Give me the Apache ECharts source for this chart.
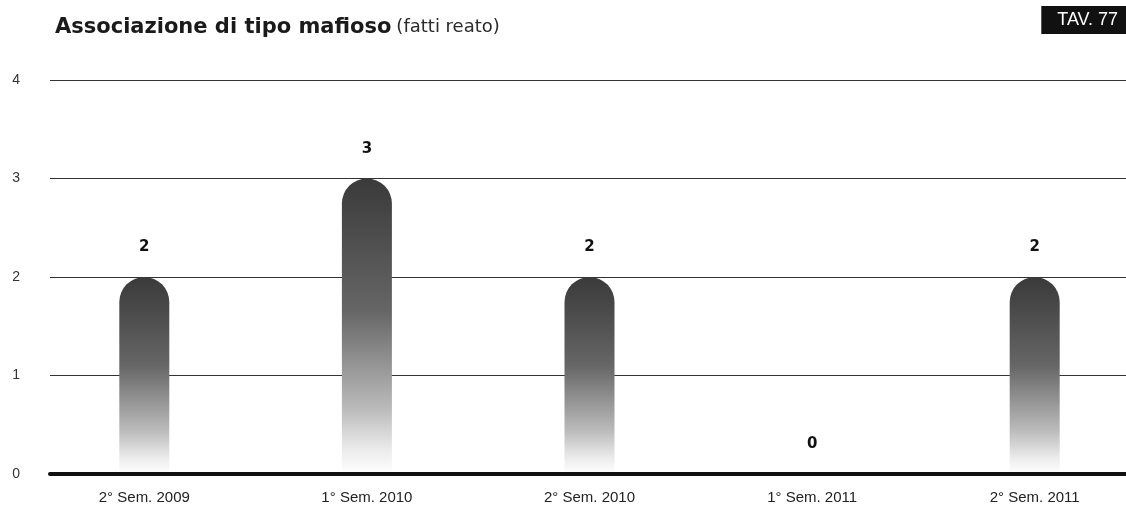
<!DOCTYPE html>
<html>
<head>
<meta charset="utf-8">
<script src="https://cdn.jsdelivr.net/npm/echarts@6/dist/echarts.min.js"></script>
<style>
  html, body { margin: 0; padding: 0; background: #fff; }
  #main { width: 1126px; height: 511px; }
</style>
</head>
<body>
<div id="main"></div>
<script>
var categories = ['2° Sem. 2009', '1° Sem. 2010', '2° Sem. 2010', '1° Sem. 2011', '2° Sem. 2011'];
var values = [2, 3, 2, 0, 2];
var yTicks = [0, 1, 2, 3, 4];

var myChart = echarts.init(document.getElementById('main'));

// bar fill: dark top fading to white at bottom
var barFill = new echarts.graphic.LinearGradient(0, 0, 0, 1, [
  { offset: 0, color: '#3a3a3a' },
  { offset: 0.45, color: '#666' },
  { offset: 0.78, color: '#bbb' },
  { offset: 0.92, color: '#ececec' },
  { offset: 1, color: '#fff' }
]);

var option = {
  animation: false,
  backgroundColor: '#fff',
  textStyle: { fontFamily: 'Liberation Sans, Arial, sans-serif' },
  title: [{
    left: 50,
    top: 12,
    text: '{b|Associazione di tipo mafioso} {n|(fatti reato)}',
    textStyle: {
      rich: {
        b: { fontFamily: 'DejaVu Sans', fontWeight: 'bold', fontSize: 21, color: '#1a1a1a' },
        n: { fontFamily: 'DejaVu Sans', fontWeight: 'normal', fontSize: 18, color: '#2a2a2a' }
      }
    }
  }, {
    right: 0,
    top: 6,
    text: 'TAV. 77',
    backgroundColor: '#111',
    padding: [5, 8, 5, 16],
    textStyle: { color: '#fff', fontSize: 18, fontWeight: 'normal', fontFamily: 'Liberation Sans' }
  }],
  grid: [
    { left: 50, right: 0, top: 80, bottom: 37, outerBoundsMode: 'none' },
    { left: 33, width: 1113, top: 80, bottom: 37, outerBoundsMode: 'none', containLabel: false }
  ],
  xAxis: [{
    gridIndex: 0,
    type: 'category',
    data: categories,
    axisLine: { show: true, lineStyle: { color: '#111', width: 4 } },
    axisTick: { show: false },
    axisLabel: { show: false },
    z: 5
  }, {
    gridIndex: 1,
    type: 'category',
    data: categories,
    axisLine: { show: false },
    axisTick: { show: false },
    axisLabel: { margin: 16, fontSize: 15, color: '#222' }
  }],
  yAxis: [{
    gridIndex: 0,
    type: 'value',
    min: yTicks[0],
    max: yTicks[yTicks.length - 1],
    interval: 1,
    axisLine: { show: false },
    axisTick: { show: false },
    axisLabel: { margin: 30, fontSize: 14, color: '#333', align: 'right' },
    splitLine: { lineStyle: { color: '#333', width: 1 } }
  }, {
    gridIndex: 1,
    type: 'value',
    min: yTicks[0],
    max: yTicks[yTicks.length - 1],
    interval: 1,
    show: false
  }],
  series: [{
    type: 'bar',
    xAxisIndex: 1,
    yAxisIndex: 1,
    data: values,
    barWidth: 50,
    itemStyle: { color: barFill, borderRadius: [25, 25, 0, 0] },
    label: {
      show: true,
      position: 'top',
      distance: 22,
      fontFamily: 'DejaVu Sans',
      fontWeight: 'bold',
      fontSize: 15,
      color: '#111'
    }
  }]
};

myChart.setOption(option);
window.addEventListener('resize', function () { myChart.resize(); });
</script>
</body>
</html>
